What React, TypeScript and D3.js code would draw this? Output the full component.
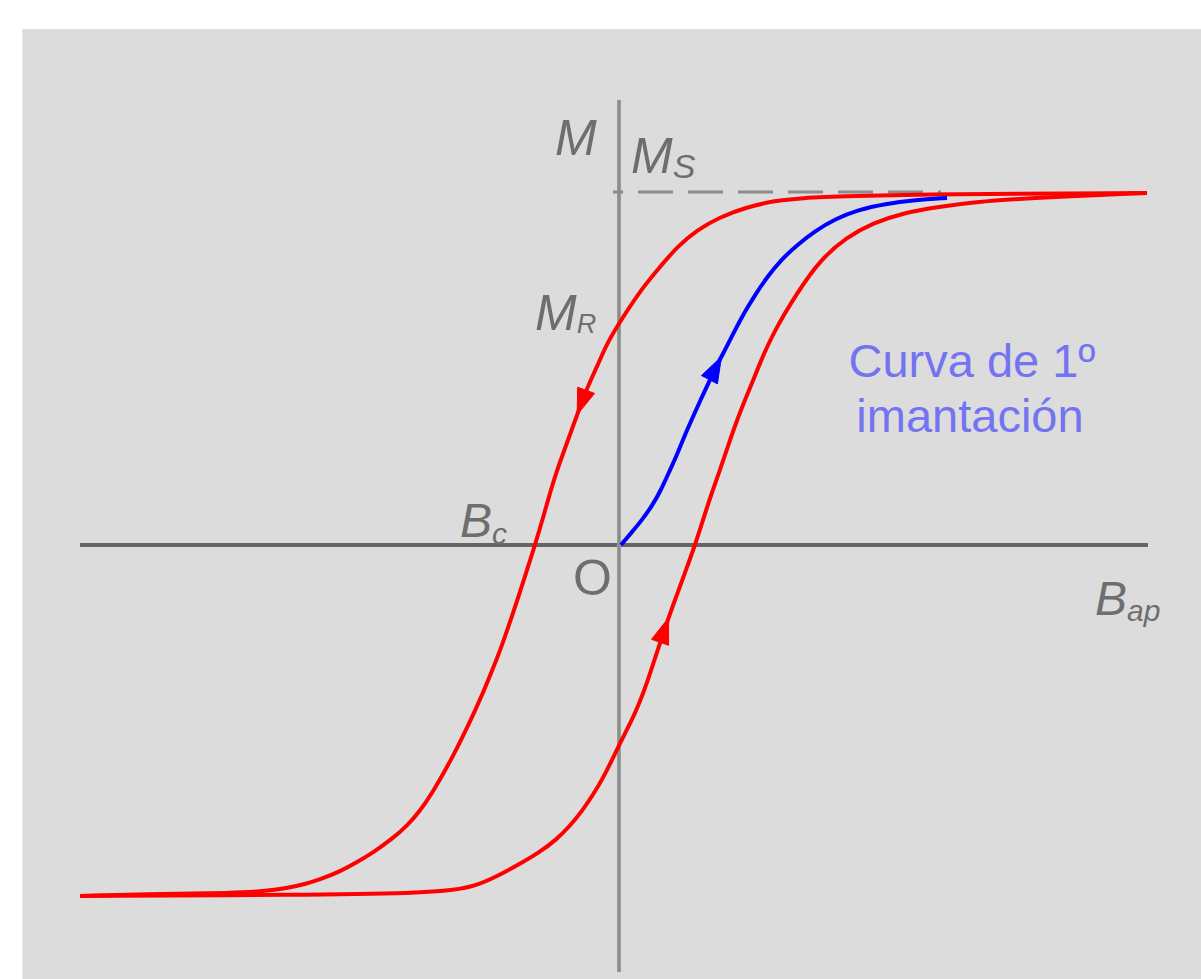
import React from "react";
import * as d3 from "d3";

// Hysteresis loop: applied field B (arbitrary units), magnetization M (normalized to Ms)
const descendingBranch: [number, number][] = [
  [5.26, 1.0], [3.19, 0.997], [2.29, 0.991], [1.79, 0.986], [1.52, 0.977],
  [1.26, 0.96], [0.99, 0.932], [0.76, 0.895], [0.56, 0.847], [0.39, 0.79],
  [0.22, 0.733], [0.02, 0.648], [-0.14, 0.574], [-0.24, 0.506], [-0.34, 0.446],
  [-0.44, 0.369], [-0.54, 0.29], [-0.64, 0.213], [-0.71, 0.148], [-0.78, 0.077],
  [-0.86, 0.0], [-0.94, -0.071], [-1.02, -0.142], [-1.11, -0.219], [-1.2, -0.293],
  [-1.29, -0.358], [-1.38, -0.42], [-1.47, -0.477], [-1.57, -0.537], [-1.67, -0.594],
  [-1.78, -0.651], [-1.89, -0.705], [-2.01, -0.756], [-2.14, -0.798], [-2.29, -0.835],
  [-2.47, -0.872], [-2.65, -0.903], [-2.82, -0.929], [-3.0, -0.949], [-3.15, -0.963],
  [-3.33, -0.974], [-3.53, -0.983], [-3.91, -0.989], [-4.57, -0.991], [-5.41, -0.997],
];

const ascendingBranch: [number, number][] = [
  [-5.41, -0.997], [-3.21, -0.994], [-2.01, -0.989], [-1.66, -0.98], [-1.46, -0.969],
  [-1.25, -0.943], [-1.01, -0.906], [-0.81, -0.872], [-0.65, -0.838], [-0.51, -0.798],
  [-0.39, -0.756], [-0.28, -0.71], [-0.18, -0.662], [-0.09, -0.611], [0.0, -0.557],
  [0.1, -0.503], [0.18, -0.452], [0.26, -0.392], [0.35, -0.313], [0.45, -0.227],
  [0.55, -0.148], [0.65, -0.071], [0.74, 0.0], [0.82, 0.071], [0.9, 0.142],
  [0.99, 0.213], [1.07, 0.281], [1.15, 0.347], [1.23, 0.406], [1.31, 0.46],
  [1.39, 0.517], [1.52, 0.602], [1.76, 0.716], [1.99, 0.81], [2.26, 0.875],
  [2.52, 0.915], [2.82, 0.943], [3.16, 0.96], [3.52, 0.974], [4.09, 0.986],
  [5.26, 1.0],
];

const firstMagnetization: [number, number][] = [
  [0.0, 0.0], [0.11, 0.037], [0.21, 0.071], [0.31, 0.111], [0.4, 0.156],
  [0.48, 0.207], [0.56, 0.256], [0.63, 0.307], [0.71, 0.358], [0.79, 0.409],
  [0.87, 0.457], [0.95, 0.506], [1.04, 0.554], [1.13, 0.605], [1.23, 0.659],
  [1.34, 0.71], [1.46, 0.761], [1.6, 0.81], [1.76, 0.852], [1.94, 0.892],
  [2.14, 0.926], [2.37, 0.952], [2.64, 0.969], [2.94, 0.98], [3.26, 0.986],
];

// arrow marks: which series, at which B, travel direction in B
const arrowMarks = [
  { series: "descending", b: -0.39, dir: -1, color: "#ff0000" },
  { series: "ascending", b: 0.43, dir: 1, color: "#ff0000" },
  { series: "first", b: 0.94, dir: 1, color: "#0000ff" },
];

const bDomain: [number, number] = [-5.41, 5.26];
const mDomain: [number, number] = [-1, 1];
const hAxisExtent: [number, number] = [-5.41, 5.27];
const vAxisExtent: [number, number] = [1.264, -1.213];
const msLineExtent: [number, number] = [-0.08, 3.2];

const W = 1201;
const H = 979;

const x = d3.scaleLinear().domain(bDomain).range([80, 1147]);
const y = d3.scaleLinear().domain(mDomain).range([897, 193]);

const seriesMap: Record<string, [number, number][]> = {
  descending: descendingBranch,
  ascending: ascendingBranch,
  first: firstMagnetization,
};

function mAt(series: [number, number][], b: number): number {
  for (let i = 0; i < series.length - 1; i++) {
    const [b0, m0] = series[i];
    const [b1, m1] = series[i + 1];
    if ((b >= b0 && b <= b1) || (b <= b0 && b >= b1)) {
      const t = b1 === b0 ? 0 : (b - b0) / (b1 - b0);
      return m0 + t * (m1 - m0);
    }
  }
  return series[series.length - 1][1];
}

const line = d3
  .line<[number, number]>()
  .x((d) => x(d[0]))
  .y((d) => y(d[1]))
  .curve(d3.curveBasis);

function arrowPath(a: { series: string; b: number; dir: number }): string {
  const s = seriesMap[a.series];
  const px = x(a.b);
  const py = y(mAt(s, a.b));
  const b2 = a.b + a.dir * 0.06;
  const qx = x(b2);
  const qy = y(mAt(s, b2));
  let ux = qx - px;
  let uy = qy - py;
  const len = Math.hypot(ux, uy) || 1;
  ux /= len;
  uy /= len;
  const nx = -uy;
  const ny = ux;
  const tip = [px + ux * 14, py + uy * 14];
  const bx = px - ux * 12;
  const by = py - uy * 12;
  const c1 = [bx + nx * 9, by + ny * 9];
  const c2 = [bx - nx * 9, by - ny * 9];
  return `M${tip[0]},${tip[1]}L${c1[0]},${c1[1]}L${c2[0]},${c2[1]}Z`;
}

const labelFont = "'Liberation Sans', Arial, Helvetica, sans-serif";
const labelColor = "#6e6e6e";

export default function App() {
  return (
    <svg
      width={W}
      height={H}
      style={{ position: "absolute", left: 0, top: 0, display: "block" }}
    >
      <rect x={0} y={0} width={W} height={H} fill="#ffffff" />
      <rect x={22} y={29} width={W - 22} height={H - 29} fill="#dcdcdc" />
      <line x1={22.5} y1={29} x2={22.5} y2={H} stroke="#e8e8e8" strokeWidth={1} />

      {/* axes */}
      <line
        x1={x(hAxisExtent[0])}
        x2={x(hAxisExtent[1])}
        y1={y(0)}
        y2={y(0)}
        stroke="#666666"
        strokeWidth={4}
      />
      <line
        x1={x(0) - 2}
        x2={x(0) - 2}
        y1={y(vAxisExtent[0])}
        y2={y(vAxisExtent[1])}
        stroke="#9a9a9a"
        strokeWidth={4}
      />
      <line
        x1={x(0) - 2}
        x2={x(0) - 2}
        y1={y(vAxisExtent[0])}
        y2={y(vAxisExtent[1])}
        stroke="#8a8a8a"
        strokeWidth={1.5}
      />

      {/* Ms dashed line */}
      <line
        x1={x(msLineExtent[0])}
        x2={x(msLineExtent[1])}
        y1={y(1) - 1}
        y2={y(1) - 1}
        stroke="#8c8c8c"
        strokeWidth={3}
        strokeDasharray="35 15"
        strokeDashoffset={25}
      />

      {/* curves */}
      <path d={line(ascendingBranch) || ""} fill="none" stroke="#ff0000" strokeWidth={4} />
      <path d={line(descendingBranch) || ""} fill="none" stroke="#ff0000" strokeWidth={4} />
      <path d={line(firstMagnetization) || ""} fill="none" stroke="#0000ff" strokeWidth={4} />

      {arrowMarks.map((a, i) => (
        <path key={i} d={arrowPath(a)} fill={a.color} stroke={a.color} strokeWidth={1} />
      ))}

      {/* labels */}
      <g fontFamily={labelFont} fill={labelColor} fontStyle="italic">
        <text x={555} y={155} fontSize={50}>M</text>
        <text x={631} y={173} fontSize={50}>
          M<tspan fontSize={34} dy={5}>S</tspan>
        </text>
        <text x={535} y={330} fontSize={50}>
          M<tspan fontSize={27} dy={3}>R</tspan>
        </text>
        <text x={460} y={537} fontSize={48}>
          B<tspan fontSize={30} dy={7}>c</tspan>
        </text>
        <text x={1095} y={615} fontSize={48}>
          B<tspan fontSize={30} dy={6}>ap</tspan>
        </text>
      </g>
      <text x={573} y={595} fontSize={50} fontFamily={labelFont} fill={labelColor}>
        O
      </text>
      <g fontFamily={labelFont} fill="#7474f2" fontSize={47} textAnchor="middle">
        <text x={972} y={377}>Curva de 1º</text>
        <text x={970} y={432}>imantación</text>
      </g>
    </svg>
  );
}
